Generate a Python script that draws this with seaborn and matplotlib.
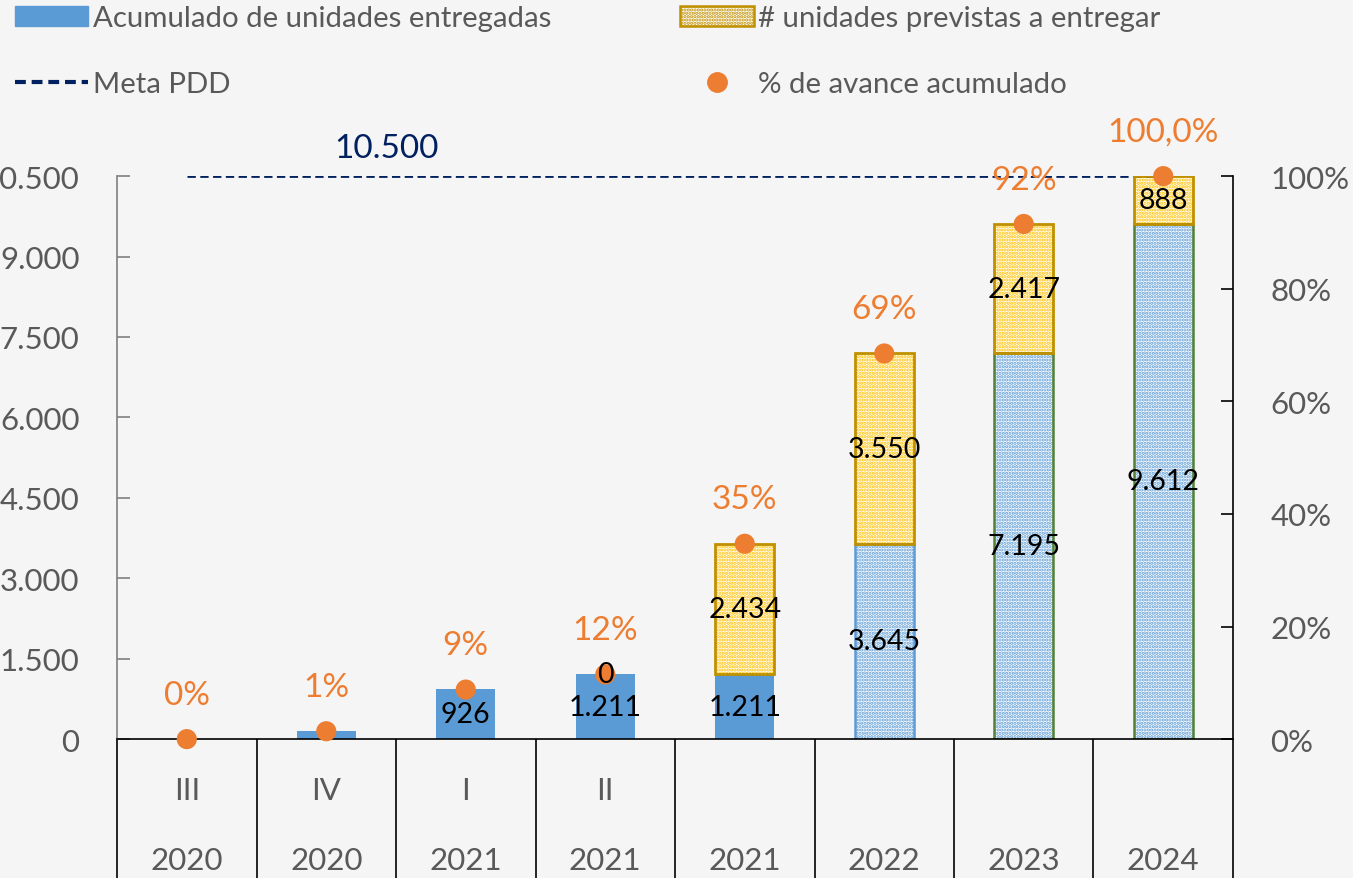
import numpy as np
import pandas as pd
import seaborn as sns
import matplotlib.pyplot as plt
from matplotlib.lines import Line2D
from matplotlib.patches import Patch, Rectangle

# Values
periods = ["III 2020", "IV 2020", "I 2021", "II 2021", "2021", "2022", "2023", "2024"]
quarter_labels = ["III", "IV", "I", "II", "", "", "", ""]
year_labels = ["2020", "2020", "2021", "2021", "2021", "2022", "2023", "2024"]
delivered = [0, 145, 926, 1211, 1211, 3645, 7195, 9612]
planned = [0, 0, 0, 0, 2434, 3550, 2417, 888]
progress_pct = [0, 1.4, 8.8, 11.5, 34.7, 68.5, 91.5, 100]
progress_labels = ["0%", "1%", "9%", "12%", "35%", "69%", "92%", "100,0%"]
delivered_labels = ["", "", "926", "1.211", "1.211", "3.645", "7.195", "9.612"]
planned_labels = ["", "", "", "0", "2.434", "3.550", "2.417", "888"]
goal = 10500
left_ticks = [0, 1500, 3000, 4500, 6000, 7500, 9000, 10500]
right_ticks = [0, 20, 40, 60, 80, 100]

# bar styling: solid for executed periods, dotted (projected) afterwards
delivered_style = ["solid"] * 5 + ["dotted"] * 3
delivered_edge = [None] * 5 + ["#5B9BD5", "#548235", "#548235"]

BLUE = "#5B9BD5"
YELLOW = "#FFC000"
GOLD = "#C09000"
NAVY = "#002060"
ORANGE = "#ED7D31"
GRAY = "#595959"
FS = 20.5      # bar labels
TICK_FS = 22.5  # axis labels
LEG_FS = 21.2

df = pd.DataFrame({
    "periodo": periods,
    "idx": np.arange(len(periods)),
    "entregadas": delivered,
    "previstas": planned,
    "avance": np.array(progress_pct) / 100,
})

sns.set_theme(style="white")
plt.rcParams["font.family"] = ["Lato", "DejaVu Sans"]
plt.rcParams["hatch.linewidth"] = 1.6

fig = plt.figure(figsize=(13.53, 8.79), dpi=100, facecolor="#F5F5F5")
ax = fig.add_axes([0.0865, 0.158, 0.8248, 0.6405])
ax.set_facecolor("none")

# delivered units, then projected units stacked on top
sns.barplot(data=df, x="periodo", y="entregadas", order=periods, color=BLUE,
            saturation=1, width=0.42, errorbar=None, linewidth=0, ax=ax)
sns.barplot(data=df, x="periodo", y="previstas", order=periods, color=YELLOW,
            saturation=1, width=0.42, errorbar=None, linewidth=0,
            bottom=df["entregadas"].to_numpy(), ax=ax)

for p, style, edge in zip(ax.containers[0], delivered_style, delivered_edge):
    if style == "solid":
        p.set_facecolor(BLUE)
        p.set_linewidth(0)
    else:
        p.set_facecolor("white")
        p.set_edgecolor(BLUE)
        p.set_hatch(".....")
        p.set_linewidth(0)
        ax.add_patch(Rectangle(p.get_xy(), p.get_width(), p.get_height(), fill=False,
                               ec=edge, lw=1.8, zorder=p.get_zorder() + 0.1))

for p in ax.containers[1]:
    p.set_facecolor("white")
    p.set_edgecolor(YELLOW)
    p.set_hatch(".....")
    p.set_linewidth(0)
    if p.get_height() > 0:
        ax.add_patch(Rectangle(p.get_xy(), p.get_width(), p.get_height(), fill=False,
                               ec=GOLD, lw=2.0, zorder=p.get_zorder() + 0.2))

# goal line
ax.hlines(goal, 0, len(periods) - 1, colors=NAVY, linestyles=(0, (3, 1.6)), lw=2.0, zorder=1)
ax.annotate("10.500", xy=(1.43, goal), xytext=(0, 20), textcoords="offset points",
            ha="center", va="center", color=NAVY, fontsize=24)

ax.set_xlim(-0.5, len(periods) - 0.5)
ax.set_ylim(0, goal)
ax.set_yticks(left_ticks, [f"{t:,}".replace(",", ".") for t in left_ticks])
ax.tick_params(axis="y", direction="in", length=9, width=1.2, color="#808080",
               pad=27, labelsize=TICK_FS, labelcolor=GRAY, left=True)
ax.set_xticks(range(len(periods)), [""] * len(periods))
ax.set_xticks(np.arange(-0.5, len(periods)), minor=True)
ax.tick_params(axis="x", which="major", length=0)
ax.tick_params(axis="x", which="minor", direction="out", length=105, width=1.2,
               color="black", bottom=True)
ax.set_xlabel("")
ax.set_ylabel("")
for s in ["top", "right"]:
    ax.spines[s].set_visible(False)
ax.spines["left"].set_color("#808080")
ax.spines["left"].set_linewidth(1.2)
ax.spines["bottom"].set_color("black")
ax.spines["bottom"].set_linewidth(1.2)

trans = ax.get_xaxis_transform()
for i, (q, y) in enumerate(zip(quarter_labels, year_labels)):
    ax.text(i, -0.09, q, transform=trans, ha="center", va="center", fontsize=TICK_FS, color=GRAY)
    ax.text(i, -0.215, y, transform=trans, ha="center", va="center", fontsize=TICK_FS, color=GRAY)

# cumulative progress on the secondary axis
ax2 = ax.twinx()
sns.scatterplot(data=df, x="idx", y="avance", color=ORANGE, s=210, edgecolor="none",
                legend=False, clip_on=False, zorder=5, ax=ax2)
ax2.set_ylim(0, 1)
ax2.set_yticks([t / 100 for t in right_ticks], [f"{t}%" for t in right_ticks])
ax2.tick_params(axis="y", direction="in", length=9, width=1.2, color="black",
                pad=27, labelsize=TICK_FS, labelcolor=GRAY, right=True)
ax2.set_xlabel("")
ax2.set_ylabel("")
for s in ["top", "left", "bottom"]:
    ax2.spines[s].set_visible(False)
ax2.spines["right"].set_color("black")
ax2.spines["right"].set_linewidth(1.2)

for x, v, lab in zip(df["idx"], df["avance"], progress_labels):
    ax2.annotate(lab, xy=(x, v), xytext=(0, 32), textcoords="offset points",
                 ha="center", va="center", color=ORANGE, fontsize=24, zorder=6)

# segment value labels (on top of the dots)
for container, labels in [(ax.containers[0], delivered_labels), (ax.containers[1], planned_labels)]:
    for p, lab in zip(container, labels):
        if lab:
            ax2.annotate(lab, xy=(p.get_x() + p.get_width() / 2, p.get_y() + p.get_height() / 2),
                         xycoords=ax.transData, ha="center", va="center",
                         fontsize=FS, color="black", zorder=7)

ax.set_xlim(-0.5, len(periods) - 0.5)

# legend
h_del = Patch(facecolor=BLUE, edgecolor=BLUE)
h_plan = Patch(facecolor="white", edgecolor=GOLD, hatch=".....", lw=1.8)
h_meta = Line2D([], [], color=NAVY, ls=(0, (2.6, 1.4)), lw=3)
h_pct = Line2D([], [], marker="o", ls="none", color=ORANGE, markersize=14)
common = dict(loc="upper left", frameon=False, handlelength=2.5, handletextpad=0.15,
              labelspacing=1.35, borderpad=0, borderaxespad=0, fontsize=LEG_FS, labelcolor=GRAY)
fig.legend([h_del, h_meta], ["Acumulado de unidades entregadas", "Meta PDD"],
           bbox_to_anchor=(0.011, 0.993), **common)
fig.legend([h_plan, h_pct], ["# unidades previstas a entregar", "% de avance acumulado"],
           bbox_to_anchor=(0.5026, 0.993), **common)

fig.savefig("out.png", dpi=100, facecolor=fig.get_facecolor())
